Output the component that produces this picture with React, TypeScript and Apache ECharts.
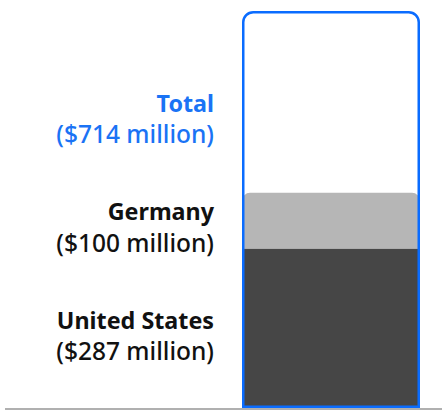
import React, { useEffect, useRef } from "react";
import * as echarts from "echarts";

const categories = ["Exports"];
const unitedStates = [287];
const germany = [100];
const total = [714];
const labelNames = { us: "United States", de: "Germany", total: "Total" };
const labelValues = { us: "($287 million)", de: "($100 million)", total: "($714 million)" };

const FONT = "'Noto Sans', sans-serif";

export default function App() {
  const ref = useRef<HTMLDivElement>(null);
  useEffect(() => {
    if (!ref.current) return;
    const chart = echarts.init(ref.current, null, { renderer: "svg" });
    const rich = (color: string) => ({
      b: { fontFamily: FONT, fontSize: 23.3, fontWeight: "bold", color, lineHeight: 31, align: "right" },
      v: { fontFamily: FONT, fontSize: 24.5, fontWeight: 500, color, lineHeight: 31, align: "right" },
    });
    chart.setOption({
      animation: false,
      grid: { left: 241, right: 23, top: 11, bottom: 2 },
      xAxis: {
        type: "category",
        data: categories,
        axisLine: { show: false },
        axisTick: { show: false },
        axisLabel: { show: false },
      },
      yAxis: {
        type: "value",
        min: 0,
        max: 714,
        show: false,
        splitLine: { show: false },
      },
      series: [
        {
          name: "United States",
          type: "bar",
          stack: "s",
          data: unitedStates,
          barWidth: 178,
          itemStyle: { color: "#464646" },
          label: {
            show: true,
            position: "left",
            distance: 28,
            offset: [0, 7],
            formatter: () => `{b|${labelNames.us}}\n{v|${labelValues.us}}`,
            rich: rich("#111111"),
          },
        },
        {
          name: "Germany",
          type: "bar",
          stack: "s",
          data: germany,
          barWidth: 178,
          itemStyle: { color: "#b6b6b6", borderRadius: [8, 8, 0, 0] },
          label: {
            show: true,
            position: "left",
            distance: 28,
            offset: [0, 6],
            formatter: () => `{b|${labelNames.de}}\n{v|${labelValues.de}}`,
            rich: rich("#111111"),
          },
        },
        {
          name: "Total",
          type: "bar",
          data: total,
          barWidth: 178,
          barGap: "-100%",
          z: 5,
          itemStyle: {
            color: "rgba(0,0,0,0)",
            borderColor: "#0a6cff",
            borderWidth: 2.5,
            borderRadius: [10, 10, 0, 0],
          },
          label: {
            show: true,
            position: [-28, 107],
            align: "right",
            verticalAlign: "middle",
            formatter: () => `{b|${labelNames.total}}\n{v|${labelValues.total}}`,
            rich: rich("#1a73f5"),
          },
        },
      ],
      graphic: [
        {
          type: "line",
          z: 10,
          shape: { x1: 5, y1: 409, x2: 442, y2: 409 },
          style: { stroke: "#b0b0b0", lineWidth: 2 },
        },
      ],
    });
    return () => chart.dispose();
  }, []);
  return <div ref={ref} style={{ width: 444, height: 410, position: "absolute", left: 0, top: 0 }} />;
}
